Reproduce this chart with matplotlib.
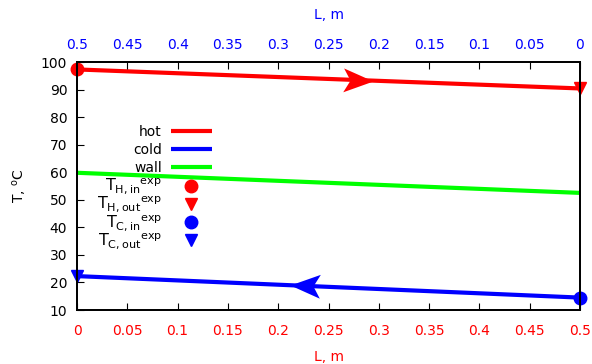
import numpy as np
import matplotlib.pyplot as plt
from matplotlib.path import Path
from matplotlib.markers import MarkerStyle
from matplotlib.transforms import offset_copy

plt.rcParams['font.family'] = 'DejaVu Sans'
plt.rcParams['mathtext.fontset'] = 'custom'
plt.rcParams['mathtext.rm'] = 'DejaVu Sans'
plt.rcParams['mathtext.it'] = 'DejaVu Sans'

# data
L = [0.0, 0.5]
T_hot = [97.3, 90.4]
T_cold = [22.3, 14.5]
T_wall = [59.8, 52.5]

# experimental points (L, T)
exp_hot_in = (0.0, 97.3)
exp_hot_out = (0.5, 90.4)
exp_cold_in = (0.5, 14.5)
exp_cold_out = (0.0, 22.3)

# flow arrows: where the tip sits along L
hot_arrow_L = 0.294
cold_arrow_L = 0.212

xticks = np.arange(0, 0.501, 0.05)
xticklabels = ['0', '0.05', '0.1', '0.15', '0.2', '0.25', '0.3', '0.35', '0.4', '0.45', '0.5']
yticks = list(range(10, 101, 10))

fig = plt.figure(figsize=(5.92, 3.64), dpi=100)
ax = fig.add_axes([77/592, 1 - 310/364, 503/592, 248/364])

ax.plot(L, T_hot, color='red', lw=3, solid_capstyle='butt')
ax.plot(L, T_cold, color='blue', lw=3, solid_capstyle='butt')
ax.plot(L, T_wall, color='#00ff00', lw=3, solid_capstyle='butt')

ax.plot(*exp_hot_in, 'o', color='red', ms=9, clip_on=False)
ax.plot(*exp_hot_out, 'v', color='red', ms=9, clip_on=False)
ax.plot(*exp_cold_in, 'o', color='blue', ms=9, clip_on=False)
ax.plot(*exp_cold_out, 'v', color='blue', ms=9, clip_on=False)

ax.set_xlim(0, 0.5)
ax.set_ylim(10, 100)

# notched arrow head, tip at the origin
head = Path([(0, 0), (-1, 0.4), (-0.77, 0), (-1, -0.4), (0, 0)],
            [Path.MOVETO, Path.LINETO, Path.LINETO, Path.LINETO, Path.CLOSEPOLY])


def flow_arrow(xs, ys, at, reverse, color):
    y_at = np.interp(at, xs, ys)
    p0 = ax.transData.transform((xs[0], ys[0]))
    p1 = ax.transData.transform((xs[1], ys[1]))
    ang = np.degrees(np.arctan2(p1[1] - p0[1], p1[0] - p0[0]))
    if reverse:
        ang += 180
    m = MarkerStyle(head).rotated(deg=ang)
    ax.plot(at, y_at, marker=m, ms=43, color=color, mew=0, ls='none')


flow_arrow(L, T_hot, hot_arrow_L, False, 'red')
flow_arrow(L, T_cold, cold_arrow_L, True, 'blue')

ax.set_xticks(xticks)
ax.set_xticklabels(xticklabels, color='red', fontsize=10)
ax.set_yticks(yticks)
ax.tick_params(axis='y', labelsize=10, direction='in', length=5, right=False, pad=7)
ax.tick_params(axis='x', direction='in', length=5, top=False, pad=10)
ax.set_xlabel('L, m', color='red', fontsize=10, labelpad=9)
ax.set_ylabel(r'T, $^o$C', fontsize=10, labelpad=9)

top = ax.twiny()
top.set_xlim(0.5, 0)
top.set_xticks(xticks)
top.set_xticklabels(xticklabels, color='blue', fontsize=10)
top.tick_params(axis='x', direction='in', length=5, pad=7)
top.set_xlabel('L, m', color='blue', fontsize=10, labelpad=14)

for a in (ax, top):
    for s in a.spines.values():
        s.set_linewidth(1.3)

# key, drawn gnuplot style: text right-aligned, sample to the right
key_labels = ['hot', 'cold', 'wall',
              r'$\mathregular{T_{H,in}{}^{exp}}$', r'$\mathregular{T_{H,out}{}^{exp}}$',
              r'$\mathregular{T_{C,in}{}^{exp}}$', r'$\mathregular{T_{C,out}{}^{exp}}$']
key_sizes = [10, 10, 10, 11.5, 11.5, 11.5, 11.5]
key_colors = ['red', 'blue', '#00ff00', 'red', 'red', 'blue', 'blue']
key_kind = ['line', 'line', 'line', 'o', 'v', 'o', 'v']

x_text = (162 - 77) / 503
x_l0, x_l1 = (171 - 77) / 503, (212 - 77) / 503
x_mk = (191 - 77) / 503
row0 = (310 - 131) / 248
drow = 18.2 / 248
text_tr = offset_copy(ax.transAxes, fig=fig, y=-5, units='dots')
for i, (lab, fs, c, kind) in enumerate(zip(key_labels, key_sizes, key_colors, key_kind)):
    yy = row0 - i * drow
    ax.text(x_text, yy, lab, transform=text_tr, ha='right', va='baseline', fontsize=fs)
    if kind == 'line':
        ax.plot([x_l0, x_l1], [yy, yy], color=c, lw=3, transform=ax.transAxes,
                solid_capstyle='butt', clip_on=False)
    else:
        ax.plot([x_mk], [yy], kind, color=c, ms=9, transform=ax.transAxes, clip_on=False)

fig.savefig('out.png', dpi=100)
